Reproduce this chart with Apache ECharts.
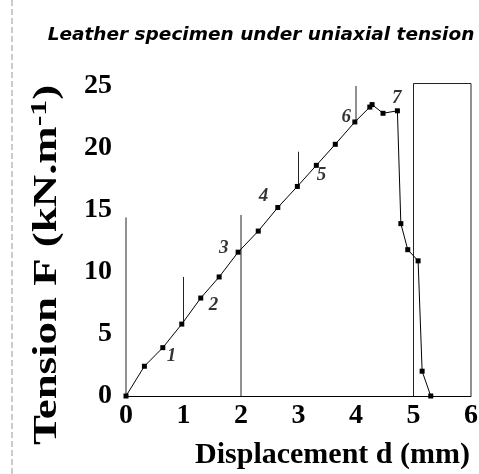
<!DOCTYPE html>
<html><head><meta charset="utf-8">
<script src="https://cdn.jsdelivr.net/npm/echarts@6/dist/echarts.min.js"></script>
<style>html,body{margin:0;padding:0;background:#fff}#c{width:479px;height:474px}</style>
</head><body><div id="c"></div>
<script>
const titleText = "Leather specimen under uniaxial tension";
const xName = "Displacement d (mm)";
const yNameMain = "Tension F (kN.m";
const yNameSup = "-1";
const xTicks = [0,1,2,3,4,5,6];
const yTicks = [0,5,10,15,20,25];
const curveX = [0,0.32,0.64,0.97,1.30,1.62,1.95,2.30,2.64,2.98,3.31,3.64,3.98,4.24,4.28,4.47,4.72,4.78,4.90,5.08,5.15,5.30];
const curveY = [0,2.4,3.9,5.8,7.9,9.6,11.6,13.3,15.2,16.9,18.6,20.3,22.1,23.3,23.5,22.8,23.0,13.9,11.8,10.9,2.0,0];
const guideX = [0,1,2,3,4];
const guideLo = [0,5.8,0,16.9,22.1];
const guideHi = [14.4,9.6,14.6,19.7,25.0];
const boxX = [5,5,6,6];
const boxY = [0,25.2,25.2,0];
const segLabels = ['1','2','3','4','5','6','7'];
const segX = [0.79,1.52,1.70,2.39,3.40,3.83,4.71];
const segY = [3.2,7.3,11.9,16.1,17.8,22.5,24.0];

const chart = echarts.init(document.getElementById('c'));
const series = [];
series.push({
  type:'line', data: curveX.map((x,i)=>[x,curveY[i]]),
  symbol:'rect', symbolSize:5, itemStyle:{color:'#000'},
  lineStyle:{color:'#000',width:1}, animation:false, clip:false, z:5
});
guideX.forEach((x,i)=>{
  series.push({type:'line', data:[[x,guideLo[i]],[x,guideHi[i]]], symbol:'none',
    lineStyle:{color:'#222',width:1}, animation:false, clip:false});
});
series.push({type:'line', data: boxX.map((x,i)=>[x,boxY[i]]), symbol:'none',
  lineStyle:{color:'#222',width:1}, animation:false, clip:false});
series.push({type:'scatter', symbolSize:0, animation:false,
  data: segX.map((x,i)=>({value:[x,segY[i]], name:segLabels[i]})),
  label:{show:true, position:'inside', formatter:p=>p.name, color:'#000',
    fontFamily:'Liberation Serif', fontStyle:'italic', fontWeight:'bold', fontSize:19}
});

chart.setOption({
  backgroundColor:'#fff',
  animation:false,
  title:{text:titleText, left:256, top:21, textAlign:'center',
    textStyle:{fontFamily:'DejaVu Sans', fontStyle:'italic', fontWeight:'bold', fontSize:18.5, color:'#000'}},
  grid:{left:126, right:8, top:86, bottom:78, outerBoundsMode:'none', containLabel:false},
  xAxis:{type:'value', min:0, max:6, interval:1,
    name:xName, nameLocation:'middle', nameGap:44,
    nameTextStyle:{fontFamily:'Liberation Serif', fontWeight:'bold', fontSize:30, color:'#000', padding:[0,0,0,68]},
    axisLine:{lineStyle:{color:'#000',width:1}}, axisTick:{show:false}, splitLine:{show:false},
    axisLabel:{fontFamily:'Liberation Serif', fontWeight:'bold', fontSize:28, color:'#000', margin:6,
      formatter:v=>xTicks.includes(v)?String(v):''}},
  yAxis:{type:'value', min:0, max:25, interval:5,
    axisLine:{show:false}, axisTick:{show:false}, splitLine:{show:false},
    axisLabel:{fontFamily:'Liberation Serif', fontWeight:'bold', fontSize:28, color:'#000', margin:14,
      formatter:v=>yTicks.includes(v)?String(v):''}},
  graphic:[
    {type:'line', shape:{x1:12,y1:0,x2:12,y2:474}, style:{stroke:'#999',lineWidth:1,lineDash:[6,3]}},
    {type:'text', x:47, y:265, rotation:Math.PI/2, scaleX:1.32, z:10,
      style:{text:'{a|'+yNameMain+'}{s|'+yNameSup+'}{a|)}', align:'center', verticalAlign:'middle',
        rich:{
          a:{fontFamily:'Liberation Serif', fontWeight:'bold', fontSize:34, fill:'#000', lineHeight:38},
          s:{fontFamily:'Liberation Serif', fontWeight:'bold', fontSize:24, fill:'#000', verticalAlign:'top', lineHeight:38, padding:[0,0,14,0]}
        }}}
  ],
  series
});
</script></body></html>
